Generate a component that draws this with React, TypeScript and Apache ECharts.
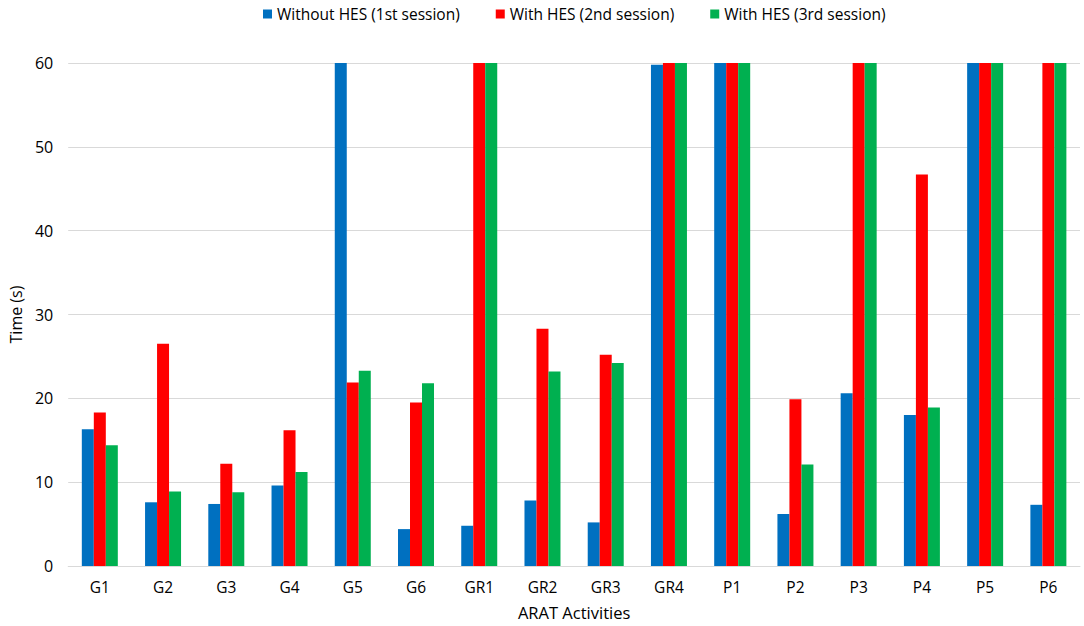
import React, { useEffect, useRef } from "react";
import * as echarts from "echarts";

const categories = ["G1", "G2", "G3", "G4", "G5", "G6", "GR1", "GR2", "GR3", "GR4", "P1", "P2", "P3", "P4", "P5", "P6"];
const withoutHES = [16.3, 7.6, 7.4, 9.6, 60, 4.4, 4.8, 7.8, 5.2, 59.8, 60, 6.2, 20.6, 18.0, 60, 7.3];
const withHES2 = [18.3, 26.5, 12.2, 16.2, 21.9, 19.5, 60, 28.3, 25.2, 60, 60, 19.9, 60, 46.7, 60, 60];
const withHES3 = [14.4, 8.9, 8.8, 11.2, 23.3, 21.8, 60, 23.2, 24.2, 60, 60, 12.1, 60, 18.9, 60, 60];
const seriesNames = ["Without HES (1st session)", "With HES (2nd session)", "With HES (3rd session)"];
const colors = ["#0070C0", "#FF0000", "#00B050"];

const FONT = "'Open Sans', 'Noto Sans', sans-serif";

export default function App() {
  const ref = useRef<HTMLDivElement>(null);
  useEffect(() => {
    if (!ref.current) return;
    const chart = echarts.init(ref.current, undefined, { renderer: "svg" });
    const data = [withoutHES, withHES2, withHES3];
    chart.setOption({
      animation: false,
      backgroundColor: "#ffffff",
      textStyle: { fontFamily: FONT },
      legend: {
        top: 1,
        left: 258,
        itemWidth: 9,
        itemHeight: 9,
        itemGap: 36,
        icon: "rect",
        textStyle: { fontSize: 15.5, color: "#000", fontFamily: FONT },
        data: seriesNames,
      },
      grid: { left: 61, right: 4, top: 63, bottom: 59, containLabel: false },
      xAxis: {
        type: "category",
        data: categories,
        name: "ARAT Activities",
        nameLocation: "middle",
        nameGap: 38,
        nameTextStyle: { fontSize: 16.5, color: "#000", fontFamily: FONT },
        axisLine: { lineStyle: { color: "#d9d9d9", width: 1 } },
        axisTick: { show: false },
        axisLabel: { fontSize: 15.5, color: "#000", margin: 13, fontFamily: FONT },
      },
      yAxis: {
        type: "value",
        min: 0,
        max: 60,
        interval: 10,
        name: "Time (s)",
        nameLocation: "middle",
        nameGap: 38,
        nameRotate: 90,
        nameTextStyle: { fontSize: 16, color: "#000", fontFamily: FONT },
        axisLine: { show: false },
        axisTick: { show: false },
        axisLabel: { fontSize: 16, color: "#000", margin: 15, fontFamily: FONT },
        splitLine: { lineStyle: { color: "#d9d9d9", width: 1 } },
      },
      series: seriesNames.map((name, i) => ({
        name,
        type: "bar",
        data: data[i],
        barWidth: 12,
        barGap: "0%",
        itemStyle: { color: colors[i] },
      })),
    });
    return () => chart.dispose();
  }, []);
  return (
    <div
      ref={ref}
      style={{ position: "absolute", left: 0, top: 0, width: 1084, height: 626 }}
    />
  );
}
